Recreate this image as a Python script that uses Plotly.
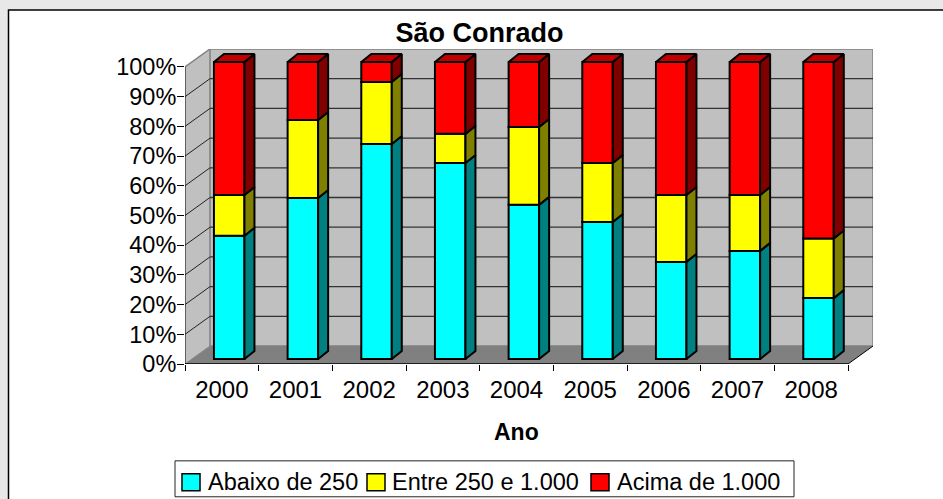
import plotly.graph_objects as go

years = ["2000", "2001", "2002", "2003", "2004", "2005", "2006", "2007", "2008"]
abaixo = [41.5, 54.2, 72.4, 66.0, 51.9, 46.1, 32.7, 36.4, 20.5]
entre = [13.7, 26.3, 20.9, 9.8, 26.2, 19.9, 22.5, 18.8, 20.1]
acima = [44.8, 19.5, 6.7, 24.2, 21.9, 34.0, 44.8, 44.8, 59.4]
series_names = ["Abaixo de 250", "Entre 250 e 1.000", "Acima de 1.000"]
front_colors = ["#00FFFF", "#FFFF00", "#FF0000"]
side_colors = ["#008080", "#808000", "#800000"]
y_ticks = [0, 10, 20, 30, 40, 50, 60, 70, 80, 90, 100]
y_labels = ["0%", "10%", "20%", "30%", "40%", "50%", "60%", "70%", "80%", "90%", "100%"]

W, H = 943, 499
# front plane of the fake 3d box, in page pixels
LEFT, RIGHT, BOTTOM, TOP = 185, 848, 364, 66.5
WALL_DX_PX, WALL_DY_PX = 25, 18
BAR_DX_PX, BAR_DY_PX = 10, 8

unit_x = (RIGHT - LEFT) / len(years)
unit_y = (BOTTOM - TOP) / 100
wall_dx = WALL_DX_PX / unit_x
wall_dy = WALL_DY_PX / unit_y
bar_dx = BAR_DX_PX / unit_x
bar_dy = BAR_DY_PX / unit_y
lift = 5 / unit_y
shift = 0.1
bar_width = 30.5 / unit_x
plot_w = RIGHT + WALL_DX_PX - LEFT
plot_h = BOTTOM - TOP + WALL_DY_PX


def page_x(px):
    return (px - LEFT) / plot_w


def page_y(py):
    return (BOTTOM - py) / plot_h


fig = go.Figure()

# bars: front face from go.Bar, side and top faces as polygons
bottoms = [0.0] * len(years)
for name, values, front, side in zip(series_names, [abaixo, entre, acima], front_colors, side_colors):
    centers = [i + 0.5 + shift for i in range(len(years))]
    fig.add_trace(
        go.Bar(
            x=centers,
            y=values,
            base=[b + lift for b in bottoms],
            width=bar_width,
            name=name,
            marker=dict(color=front, line=dict(color="black", width=2)),
            showlegend=False,
        )
    )
    for c, b, v in zip(centers, bottoms, values):
        x1 = c + bar_width / 2
        y0 = b + lift
        y1 = y0 + v
        fig.add_trace(
            go.Scatter(
                x=[x1, x1 + bar_dx, x1 + bar_dx, x1, x1],
                y=[y0, y0 + bar_dy, y1 + bar_dy, y1, y0],
                mode="lines",
                fill="toself",
                fillcolor=side,
                line=dict(color="black", width=2),
                hoverinfo="skip",
                showlegend=False,
            )
        )
    bottoms = [b + v for b, v in zip(bottoms, values)]

# top caps of the red segment
for i, total in enumerate(bottoms):
    x0 = i + 0.5 + shift - bar_width / 2
    x1 = x0 + bar_width
    y0 = total + lift
    fig.add_trace(
        go.Scatter(
            x=[x0, x1, x1 + bar_dx, x0 + bar_dx, x0],
            y=[y0, y0, y0 + bar_dy, y0 + bar_dy, y0],
            mode="lines",
            fill="toself",
            fillcolor="#C00000",
            line=dict(color="black", width=2),
            hoverinfo="skip",
            showlegend=False,
        )
    )

n = len(years)
shapes = [
    # white chart area
    dict(type="rect", xref="paper", yref="paper", x0=page_x(8.5), x1=page_x(960), y0=page_y(9.5), y1=page_y(520),
         fillcolor="white", line=dict(color="black", width=1.5), layer="below"),
    # floor
    dict(type="path", path=f"M 0 0 L {n} 0 L {n + wall_dx} {wall_dy} L {wall_dx} {wall_dy} Z",
         fillcolor="#808080", line=dict(width=0), layer="below"),
    # left wall
    dict(type="path", path=f"M 0 0 L {wall_dx} {wall_dy} L {wall_dx} {100 + wall_dy} L 0 100 Z",
         fillcolor="#C0C0C0", line=dict(width=0), layer="below"),
    # back wall
    dict(type="rect", x0=wall_dx, x1=n + wall_dx, y0=wall_dy, y1=100 + wall_dy,
         fillcolor="#C0C0C0", line=dict(color="#808080", width=1.5), layer="below"),
]
for t in y_ticks[1:-1]:
    shapes.append(dict(type="line", x0=wall_dx, x1=n + wall_dx, y0=t + wall_dy, y1=t + wall_dy,
                       line=dict(color="#333333", width=1.3), layer="below"))
    shapes.append(dict(type="line", x0=0, x1=wall_dx, y0=t, y1=t + wall_dy,
                       line=dict(color="#222222", width=1), layer="below"))
shapes += [
    dict(type="line", x0=0, x1=wall_dx, y0=100, y1=100 + wall_dy, line=dict(color="#808080", width=1.5), layer="below"),
    dict(type="line", x0=0, x1=wall_dx, y0=0, y1=wall_dy, line=dict(color="#808080", width=1), layer="below"),
    dict(type="line", x0=0, x1=0, y0=0, y1=100, line=dict(color="black", width=1), layer="below"),
    dict(type="line", x0=0, x1=n, y0=0, y1=0, line=dict(color="black", width=1.5), layer="below"),
    dict(type="line", x0=n, x1=n + wall_dx, y0=0, y1=wall_dy, line=dict(color="black", width=1), layer="below"),
]

# legend box drawn by hand so the swatches keep their size
legend_font = dict(family="Liberation Sans", size=23.5, color="black")
shapes.append(dict(type="rect", xref="paper", yref="paper", x0=page_x(175), x1=page_x(794), y0=page_y(461), y1=page_y(497),
                   fillcolor="white", line=dict(color="#222222", width=1), layer="below"))
annotations = []
for name, color, sw_x, txt_x in zip(series_names, front_colors, [182, 367, 591], [206, 389.5, 614.5]):
    shapes.append(dict(type="rect", xref="paper", yref="paper", x0=page_x(sw_x), x1=page_x(sw_x + 18),
                       y0=page_y(474), y1=page_y(491), fillcolor=color, line=dict(color="black", width=1.5)))
    annotations.append(dict(text=name, xref="paper", yref="paper", x=page_x(txt_x), y=page_y(482),
                            xanchor="left", yanchor="middle", showarrow=False, font=legend_font))

annotations.append(dict(text="<b>Ano</b>", xref="paper", yref="paper", x=page_x(516.5), y=page_y(432),
                        xanchor="center", yanchor="middle", showarrow=False,
                        font=dict(family="Liberation Sans", size=23, color="black")))

fig.update_layout(
    width=W,
    height=H,
    margin=dict(l=LEFT, r=W - RIGHT - WALL_DX_PX, t=BOTTOM - plot_h, b=H - BOTTOM, autoexpand=False),
    paper_bgcolor="#E8E8E8",
    plot_bgcolor="rgba(0,0,0,0)",
    barmode="overlay",
    showlegend=False,
    title=dict(text="<b>São Conrado</b>", x=479.5 / W, xanchor="center", yref="container", y=1 - 33 / H, yanchor="middle",
               font=dict(family="Liberation Sans", size=27, color="black")),
    font=dict(family="Liberation Sans", size=24, color="black"),
    shapes=shapes,
    annotations=annotations,
    xaxis=dict(
        range=[0, n + wall_dx],
        tickmode="array",
        tickvals=[i + 0.5 for i in range(n)],
        ticktext=years,
        ticks="outside",
        ticklen=4,
        tickcolor="rgba(0,0,0,0)",
        showgrid=False,
        zeroline=False,
        showline=False,
        minor=dict(tickmode="array", tickvals=list(range(n + 1)), ticks="outside", ticklen=6, tickcolor="black",
                   tickwidth=1, showgrid=False),
    ),
    yaxis=dict(
        range=[0, 100 + wall_dy],
        tickmode="array",
        tickvals=y_ticks,
        ticktext=y_labels,
        ticks="outside",
        ticklen=7,
        tickcolor="black",
        tickwidth=1,
        ticklabelstandoff=-4,
        tickfont=dict(size=23.5),
        showgrid=False,
        zeroline=False,
        showline=False,
    ),
)

fig.write_html(
    "out.html",
    config={"displayModeBar": False},
    post_script="document.body.style.margin='0';document.body.style.overflow='hidden';",
)
